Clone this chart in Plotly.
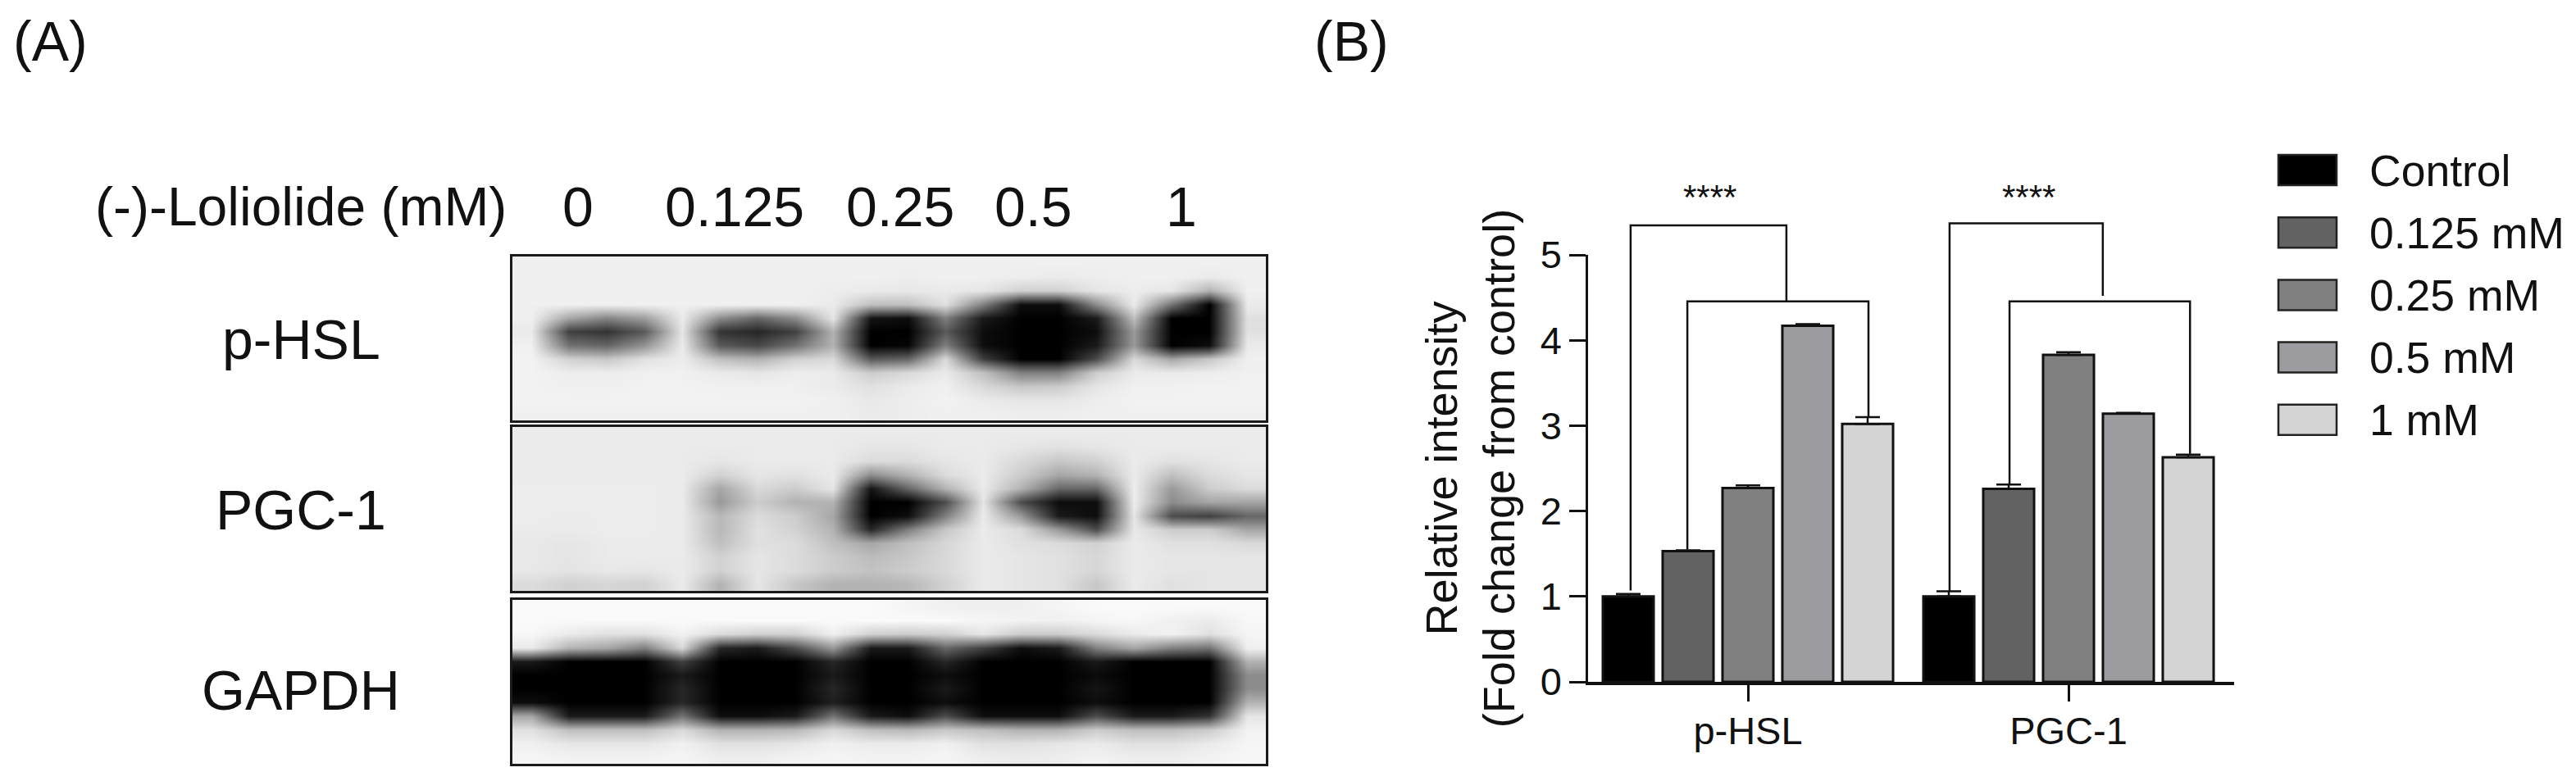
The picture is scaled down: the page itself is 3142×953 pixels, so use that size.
import plotly.graph_objects as go

W, H = 3142, 953
PAGE_MARGIN = 8  # browser body margin around the plot div

# bar chart data
groups = ["p-HSL", "PGC-1"]
doses = ["Control", "0.125 mM", "0.25 mM", "0.5 mM", "1 mM"]
control = [1.0, 1.0]
dose_0125 = [1.53, 2.26]
dose_025 = [2.27, 3.83]
dose_05 = [4.17, 3.14]
dose_1 = [3.02, 2.63]
control_err = [0.03, 0.06]
dose_0125_err = [0.01, 0.05]
dose_025_err = [0.03, 0.03]
dose_05_err = [0.02, 0.01]
dose_1_err = [0.08, 0.03]
bar_colors = ["#000000", "#626262", "#808080", "#9c9ca0", "#d4d4d4"]

# significance brackets
bracket_x = [
    [-0.366, -0.366, 0.12, 0.12],
    [-0.189, -0.189, 0.376, 0.376],
    [0.629, 0.629, 1.107, 1.107],
    [0.816, 0.816, 1.379, 1.379],
]
bracket_y = [
    [1.07, 5.345, 5.345, 4.456],
    [1.55, 4.456, 4.456, 3.11],
    [1.06, 5.37, 5.37, 4.52],
    [2.31, 4.456, 4.456, 2.67],
]

# western blot panels, darkness read by eye (0 white, 100 black)
blot_labels = ["p-HSL", "PGC-1", "GAPDH"]
lane_labels = ["0", "0.125", "0.25", "0.5", "1"]
phsl_blot = [
    [6, 6, 6, 6, 6, 6, 6, 6, 6, 6, 6, 6, 6, 6, 6, 6, 6, 6, 6, 6],
    [6, 6, 6, 6, 6, 6, 6, 6, 6, 6, 7, 6, 6, 7, 8, 7, 6, 6, 8, 6],
    [6, 6, 6, 6, 6, 6, 6, 6, 7, 8, 9, 8, 10, 18, 18, 10, 7, 10, 30, 6],
    [6, 6, 6, 6, 6, 6, 6, 6, 8, 25, 25, 12, 50, 95, 95, 45, 8, 55, 100, 8],
    [6, 35, 48, 38, 8, 45, 60, 45, 10, 92, 95, 50, 90, 100, 100, 90, 25, 100, 100, 12],
    [8, 75, 80, 65, 10, 80, 85, 75, 30, 100, 100, 65, 95, 100, 100, 95, 40, 100, 100, 12],
    [6, 55, 60, 42, 8, 65, 72, 55, 30, 100, 98, 50, 95, 100, 100, 90, 40, 100, 95, 8],
    [5, 18, 22, 12, 7, 25, 30, 18, 15, 65, 60, 15, 75, 100, 100, 70, 15, 35, 22, 6],
    [5, 7, 7, 6, 6, 8, 10, 7, 8, 20, 15, 8, 25, 50, 50, 20, 8, 8, 7, 6],
    [5, 6, 6, 5, 5, 6, 6, 6, 8, 12, 8, 6, 15, 22, 20, 10, 6, 6, 5, 5],
    [5, 5, 5, 5, 5, 5, 5, 5, 6, 9, 7, 5, 8, 10, 10, 7, 5, 5, 5, 5],
    [6, 6, 6, 6, 6, 6, 6, 6, 6, 8, 7, 6, 6, 7, 7, 6, 6, 6, 6, 6],
]
pgc_blot = [
    [8, 8, 8, 8, 8, 8, 8, 8, 8, 8, 8, 8, 8, 8, 8, 8, 8, 8, 8, 8],
    [8, 8, 8, 8, 8, 8, 8, 8, 8, 10, 10, 8, 8, 10, 12, 10, 8, 8, 8, 8],
    [8, 8, 8, 8, 8, 10, 8, 8, 8, 14, 14, 10, 8, 15, 22, 18, 8, 12, 10, 8],
    [8, 8, 8, 8, 8, 18, 10, 12, 8, 45, 30, 14, 8, 20, 35, 30, 8, 25, 14, 10],
    [7, 7, 7, 7, 8, 35, 15, 20, 10, 92, 60, 30, 8, 30, 60, 60, 7, 40, 20, 14],
    [7, 7, 7, 7, 8, 40, 20, 30, 30, 100, 100, 70, 10, 70, 95, 95, 7, 45, 35, 35],
    [7, 8, 7, 7, 8, 28, 14, 20, 35, 100, 95, 50, 8, 40, 90, 95, 10, 70, 75, 60],
    [8, 8, 7, 7, 8, 28, 12, 18, 30, 85, 50, 22, 8, 14, 40, 70, 9, 20, 20, 35],
    [9, 10, 8, 8, 8, 25, 12, 14, 25, 35, 25, 16, 8, 12, 14, 18, 8, 12, 12, 15],
    [9, 10, 8, 8, 8, 18, 10, 14, 20, 26, 22, 15, 8, 10, 12, 16, 8, 10, 10, 10],
    [9, 11, 9, 10, 8, 18, 10, 14, 20, 24, 20, 15, 8, 10, 12, 16, 8, 10, 10, 10],
    [14, 18, 16, 18, 8, 30, 10, 22, 30, 30, 28, 18, 8, 10, 12, 22, 8, 12, 10, 10],
]
gapdh_blot = [
    [2, 2, 2, 2, 2, 2, 2, 2, 2, 2, 4, 6, 6, 6, 4, 2, 2, 2, 2, 2],
    [2, 2, 2, 2, 2, 2, 2, 2, 2, 2, 2, 2, 4, 5, 6, 4, 3, 6, 8, 3],
    [3, 8, 12, 12, 5, 14, 18, 18, 6, 18, 20, 18, 10, 20, 20, 14, 8, 5, 12, 4],
    [8, 30, 35, 50, 15, 85, 90, 70, 40, 90, 90, 60, 75, 95, 90, 50, 35, 50, 55, 6],
    [90, 100, 100, 100, 75, 100, 100, 100, 85, 100, 100, 85, 100, 100, 100, 90, 100, 100, 100, 30],
    [100, 100, 100, 100, 90, 100, 100, 100, 90, 100, 100, 95, 100, 100, 100, 96, 100, 100, 100, 45],
    [100, 100, 100, 100, 85, 100, 100, 100, 85, 100, 100, 90, 100, 100, 100, 92, 100, 100, 100, 45],
    [95, 100, 100, 100, 85, 100, 100, 100, 88, 100, 100, 95, 100, 100, 100, 95, 100, 100, 100, 30],
    [35, 90, 90, 90, 55, 95, 95, 90, 55, 90, 95, 70, 95, 95, 95, 70, 90, 90, 80, 10],
    [12, 25, 25, 25, 15, 30, 30, 28, 15, 25, 28, 22, 25, 30, 30, 20, 25, 25, 20, 5],
    [6, 10, 10, 10, 6, 12, 12, 10, 6, 8, 8, 6, 12, 12, 10, 8, 12, 12, 8, 4],
    [4, 5, 5, 5, 4, 7, 7, 5, 4, 5, 5, 4, 7, 8, 7, 5, 7, 7, 5, 3],
]
blots = [phsl_blot, pgc_blot, gapdh_blot]

font_name = "Liberation Sans"
ink = "#111111"


def px(x):
    return (x - PAGE_MARGIN) / W


def py(y):
    return 1 - (y - PAGE_MARGIN) / H


fig = go.Figure()

# bars
series = [control, dose_0125, dose_025, dose_05, dose_1]
errors = [control_err, dose_0125_err, dose_025_err, dose_05_err, dose_1_err]
for name, vals, errs, color in zip(doses, series, errors, bar_colors):
    fig.add_trace(go.Bar(
        x=[0, 1], y=vals, name=name,
        marker=dict(color=color, line=dict(color=ink, width=3)),
        error_y=dict(type="data", symmetric=False, array=errs, arrayminus=[0, 0],
                     color=ink, thickness=2.5, width=15),
    ))

# brackets go above y=5, so they get a hidden taller y axis on the same scale
for bx, by in zip(bracket_x, bracket_y):
    fig.add_trace(go.Scatter(x=bx, y=by, yaxis="y5", mode="lines",
                             line=dict(color=ink, width=2.5), showlegend=False))

# blots
panel_tops = [313, 521, 732]
panel_bottoms = [513, 721, 932]
for i, z in enumerate(blots):
    n = i + 2
    fig.add_trace(go.Heatmap(z=z, xaxis=f"x{n}", yaxis=f"y{n}", zmin=0, zmax=100,
                             zsmooth="best", showscale=False,
                             colorscale=[[0, "#ffffff"], [1, "#000000"]]))
    blank = dict(showticklabels=False, ticks="", showgrid=False, zeroline=False,
                 showline=True, mirror=True, linecolor="#1a1a1a", linewidth=3,
                 automargin=False)
    fig.update_layout({
        f"xaxis{n}": dict(blank, anchor=f"y{n}", domain=[px(625), px(1544)],
                          range=[-0.5, 19.5]),
        f"yaxis{n}": dict(blank, anchor=f"x{n}",
                          domain=[py(panel_bottoms[i]), py(panel_tops[i])],
                          range=[11.5, -0.5]),
    })

annotations = []


def add_text(text, x, y, size, anchor="center"):
    annotations.append(dict(text=text, x=px(x), y=py(y), xref="paper", yref="paper",
                            xanchor=anchor, yanchor="middle", showarrow=False,
                            font=dict(family=font_name, size=size, color=ink)))


add_text("(A)", 14, 50, 68, "left")
add_text("(B)", 1601, 50, 68, "left")
add_text("(-)-Loliolide (mM)", 114, 252, 66, "left")
for label, cx in zip(lane_labels, [705, 896, 1098, 1260, 1441]):
    add_text(label, cx, 252, 68)
for label, cy in zip(blot_labels, [414, 622, 842]):
    add_text(label, 367, cy, 68)

# stars
for key in [2085, 2474]:
    add_text("****", key, 241, 42)

# legend, drawn by hand since the swatches are much bigger than plotly's
shapes = []
for i, (name, color) in enumerate(zip(doses, bar_colors)):
    top = 189 + i * 76.2
    shapes.append(dict(type="rect", xref="paper", yref="paper", x0=px(2779), x1=px(2850),
                       y0=py(top + 37), y1=py(top), fillcolor=color,
                       line=dict(color="#222222", width=2.5)))
    add_text(name, 2888, top + 19, 53.5, "left")

tick_font = dict(family=font_name, size=47, color=ink)
fig.update_layout(
    width=W, height=H, margin=dict(l=0, r=0, t=0, b=0),
    # transparent plot area, the bracket subplot sits on top of the bars
    paper_bgcolor="white", plot_bgcolor="rgba(0,0,0,0)",
    barmode="group", bargap=0.0665, bargroupgap=0.15, showlegend=False,
    shapes=shapes, annotations=annotations,
    xaxis=dict(domain=[px(1937), px(2725)], range=[-0.4987, 1.5166], automargin=False,
               tickvals=[0, 1], ticktext=groups, ticks="outside", ticklen=20,
               ticklabelstandoff=-4,
               tickwidth=2.5, tickcolor=ink, showline=True, linecolor=ink, linewidth=3.5,
               showgrid=False, zeroline=False, tickfont=tick_font),
    yaxis=dict(domain=[py(832), py(311)], range=[0, 5], tickvals=[0, 1, 2, 3, 4, 5],
               automargin=False,
               ticks="outside", ticklen=20, tickwidth=2.5, tickcolor=ink, showline=True,
               linecolor=ink, linewidth=2.5, showgrid=False, zeroline=False,
               tickfont=tick_font,
               title=dict(text="Relative intensity<br>(Fold change from control)",
                          font=dict(family=font_name, size=54, color=ink), standoff=14)),
    yaxis5=dict(domain=[py(832), py(180)], range=[0, 652 / 104.2], anchor="x", visible=False,
                automargin=False),
)

fig.write_html("out.html")
